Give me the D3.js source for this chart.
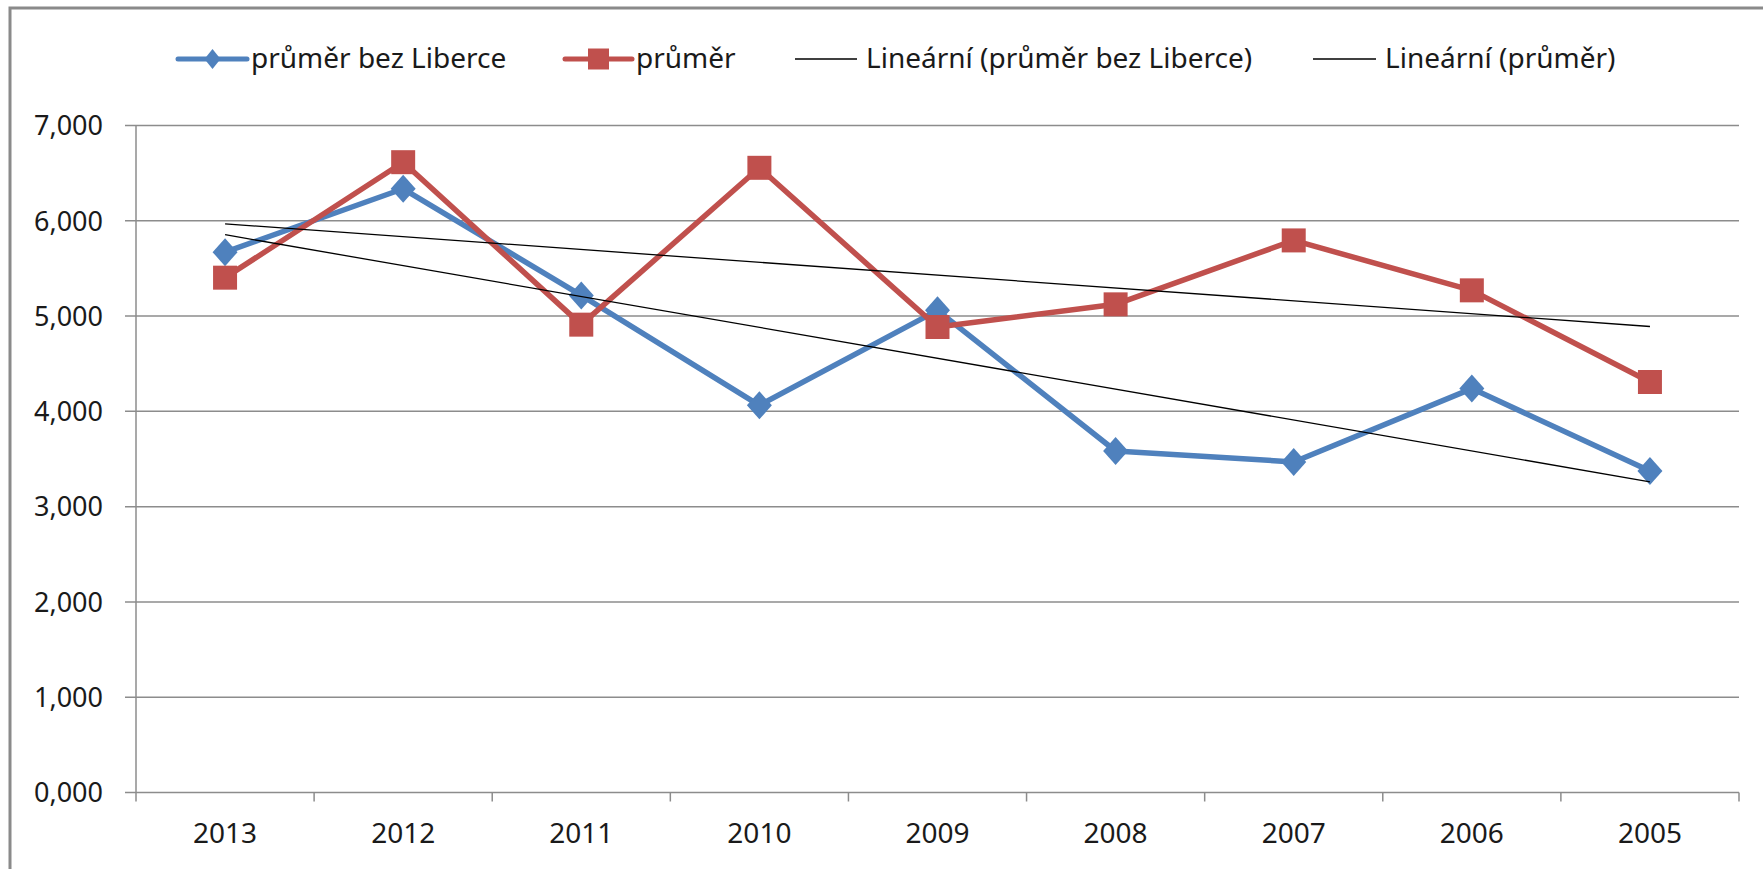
<!DOCTYPE html>
<html>
<head>
<meta charset="utf-8">
<script src="https://cdn.jsdelivr.net/npm/d3@7"></script>
<style>
    body { margin: 0; background: #fff; }
    text { font-family: "Noto Sans", "Open Sans", sans-serif; fill: #1a1a1a; }
</style>
</head>
<body>
<div id="chart"></div>
<script>
// chart data (values in thousands)
const years = ["2013", "2012", "2011", "2010", "2009", "2008", "2007", "2006", "2005"];
const bezLiberce = [5.671, 6.336, 5.217, 4.063, 5.06, 3.584, 3.469, 4.239, 3.375];
const prumer = [5.403, 6.615, 4.910, 6.556, 4.885, 5.123, 5.794, 5.270, 4.308];
const yTicks = [0, 1, 2, 3, 4, 5, 6, 7];
const seriesNames = ["průměr bez Liberce", "průměr", "Lineární (průměr bez Liberce)", "Lineární (průměr)"];

let width = 1763, height = 869;
let margin = { top: 125.5, right: 24, bottom: 76.5, left: 136 };

let svg = d3.select("#chart")
    .append("svg")
    .attr("width", width)
    .attr("height", height);

// outer frame (cut off on right and bottom like the screenshot)
svg.append("rect")
    .attr("x", 10).attr("y", 8)
    .attr("width", width + 20).attr("height", height + 20)
    .attr("fill", "none")
    .attr("stroke", "#8a8a8a")
    .attr("stroke-width", 3);

let xScale = d3.scaleBand()
    .domain(years)
    .range([margin.left, width - margin.right]);

let yScale = d3.scaleLinear()
    .domain([0, 7])
    .range([height - margin.bottom, margin.top]);

let fmt = d => d3.format(".3f")(d).replace(".", ",");

// horizontal grid
svg.append("g")
    .selectAll("line")
    .data(yTicks)
    .enter()
    .append("line")
    .attr("x1", margin.left - 11)
    .attr("x2", width - margin.right)
    .attr("y1", d => yScale(d))
    .attr("y2", d => yScale(d))
    .attr("stroke", "#8c8c8c")
    .attr("stroke-width", 1.5);

// y axis line
svg.append("line")
    .attr("x1", margin.left).attr("x2", margin.left)
    .attr("y1", yScale(7)).attr("y2", yScale(0) + 9)
    .attr("stroke", "#8c8c8c")
    .attr("stroke-width", 1.5);

// x ticks at category boundaries
let bounds = years.map(y => xScale(y)).concat([xScale(years[years.length - 1]) + xScale.bandwidth()]);
svg.append("g")
    .selectAll("line")
    .data(bounds.slice(1))
    .enter()
    .append("line")
    .attr("x1", d => d).attr("x2", d => d)
    .attr("y1", yScale(0)).attr("y2", yScale(0) + 9)
    .attr("stroke", "#8c8c8c")
    .attr("stroke-width", 1.5);

// y labels
svg.append("g")
    .selectAll("text")
    .data(yTicks)
    .enter()
    .append("text")
    .attr("x", 103)
    .attr("y", d => yScale(d))
    .attr("dy", "0.36em")
    .attr("text-anchor", "end")
    .style("font-size", "27px")
    .text(fmt);

// x labels
svg.append("g")
    .selectAll("text")
    .data(years)
    .enter()
    .append("text")
    .attr("x", d => xScale(d) + xScale.bandwidth() / 2)
    .attr("y", 843)
    .attr("text-anchor", "middle")
    .style("font-size", "28px")
    .text(d => d);

let cx = (d, i) => xScale(years[i]) + xScale.bandwidth() / 2;

// linear trend (least squares over category index)
function trend(vals) {
    let n = vals.length;
    let xs = d3.range(1, n + 1);
    let mx = d3.mean(xs), my = d3.mean(vals);
    let sxy = d3.sum(xs, (x, i) => (x - mx) * (vals[i] - my));
    let sxx = d3.sum(xs, x => (x - mx) * (x - mx));
    let b = sxy / sxx, a = my - b * mx;
    return [a + b * 1, a + b * n];
}

let line = d3.line()
    .x(cx)
    .y(d => yScale(d));

function drawSeries(vals, color, marker) {
    svg.append("path")
        .datum(vals)
        .attr("fill", "none")
        .attr("stroke", color)
        .attr("stroke-width", 5.5)
        .attr("stroke-linejoin", "round")
        .attr("d", line);

    svg.append("g")
        .selectAll("path")
        .data(vals)
        .enter()
        .append("path")
        .attr("transform", (d, i) => `translate(${cx(d, i)},${yScale(d)})`)
        .attr("d", marker)
        .attr("fill", color);
}

let diamond = "M0,-14L12.5,0L0,14L-12.5,0Z";
let square = "M-12,-12H12V12H-12Z";

drawSeries(bezLiberce, "#4f81bd", diamond);
drawSeries(prumer, "#c0504d", square);

// trend lines on top
[bezLiberce, prumer].forEach(vals => {
    let t = trend(vals);
    svg.append("line")
        .attr("x1", xScale(years[0]) + xScale.bandwidth() / 2)
        .attr("x2", xScale(years[years.length - 1]) + xScale.bandwidth() / 2)
        .attr("y1", yScale(t[0]))
        .attr("y2", yScale(t[1]))
        .attr("stroke", "#000")
        .attr("stroke-width", 1.3);
});

// legend
let legendY = 59;
let legend = [
    { x1: 178, x2: 247, tx: 251, color: "#4f81bd", w: 5, marker: "M0,-10L8,0L0,10L-8,0Z" },
    { x1: 565, x2: 632, tx: 636, color: "#c0504d", w: 5, marker: "M-10.5,-10.5H10.5V10.5H-10.5Z" },
    { x1: 795, x2: 857, tx: 866, color: "#000", w: 1.3, marker: null },
    { x1: 1313, x2: 1376, tx: 1385, color: "#000", w: 1.3, marker: null }
];
legend.forEach((l, i) => {
    svg.append("line")
        .attr("x1", l.x1).attr("x2", l.x2)
        .attr("y1", legendY).attr("y2", legendY)
        .attr("stroke", l.color)
        .attr("stroke-width", l.w)
        .attr("stroke-linecap", l.marker ? "round" : "butt");
    if (l.marker) {
        svg.append("path")
            .attr("transform", `translate(${(l.x1 + l.x2) / 2},${legendY})`)
            .attr("d", l.marker)
            .attr("fill", l.color);
    }
    svg.append("text")
        .attr("x", l.tx)
        .attr("y", 68)
        .style("font-size", "28px")
        .text(seriesNames[i]);
});
</script>
</body>
</html>
